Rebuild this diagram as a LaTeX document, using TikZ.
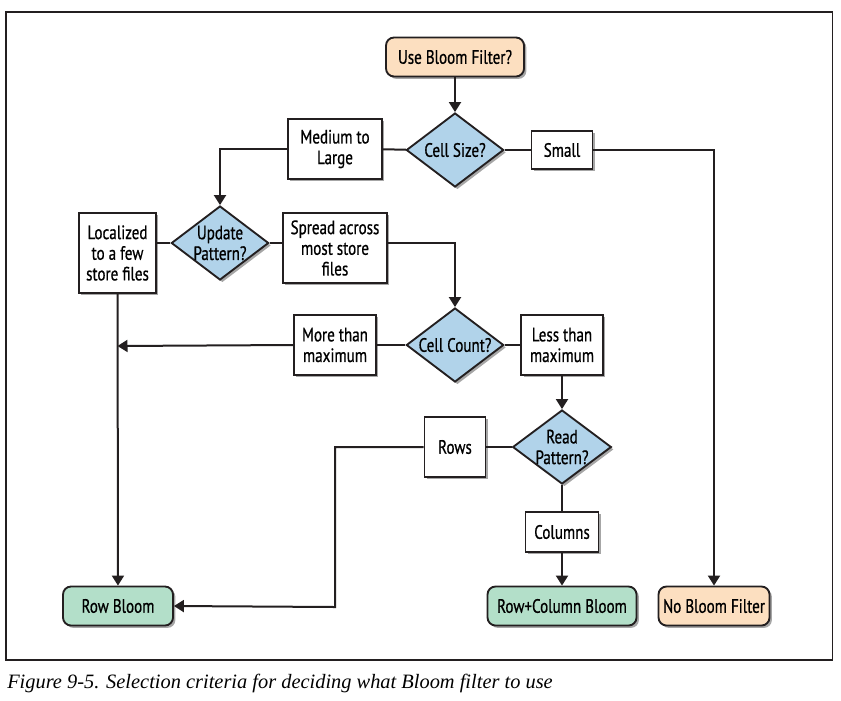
\documentclass[tikz,border=0pt]{standalone}
\usepackage{fontspec}
\setmainfont{Liberation Serif}
\newfontfamily\chartfont[FakeStretch=0.78,FakeBold=0.7]{PT Sans}
\usetikzlibrary{arrows.meta,shapes.geometric,shadows}
\definecolor{askblue}{HTML}{B1D3EA}
\definecolor{startorange}{HTML}{FCDFC0}
\definecolor{bloomgreen}{HTML}{B3DFC9}
\definecolor{inkline}{HTML}{231F20}
\tikzset{
  base/.style={draw=inkline, line width=1.4pt, font=\chartfont\fontsize{14.5}{15.5}\selectfont,
    align=center, inner sep=0pt, drop shadow={shadow xshift=1.8pt, shadow yshift=-1.8pt, opacity=0.35, fill=black}},
  answer/.style={base, rectangle, fill=white},
  terminal/.style={base, rectangle, rounded corners=6pt, minimum height=29.25pt},
  decision/.style={base, diamond, fill=askblue, inner sep=-8pt, minimum width=73pt, minimum height=55.5pt},
  link/.style={draw=inkline, line width=1.5pt},
  flow/.style={link, -{Triangle[width=9pt,length=7.5pt]}}
}
\begin{document}
\begin{tikzpicture}[x=0.75pt, y=-0.75pt]
		%%%%% START %%%%%
		\useasboundingbox (0,0) rectangle (841,700);
		\draw[line width=1.1pt, color=inkline] (6, 12) rectangle (832.5, 660);
		
		\node[terminal, fill=startorange, minimum width=103.5pt] (start) at (455, 57) {Use Bloom Filter?};
		\node[decision] (size) at (455, 150) {Cell Size?};
		\node[answer, minimum width=70.5pt, minimum height=45pt] (medium) at (335, 149) {Medium to\\Large};
		\node[answer, minimum width=45.75pt, minimum height=28.5pt] (small) at (562, 150) {Small};
		
		\node[decision] (update) at (220, 243) {Update\\Pattern?};
		\node[answer, minimum width=57.75pt, minimum height=60pt] (localized) at (117.5, 253) {Localized\\to a few\\store files};
		\node[answer, minimum width=78pt, minimum height=52.5pt] (spread) at (335, 248) {Spread across\\most store\\files};
		
		\node[decision] (count) at (455, 345) {Cell Count?};
		\node[answer, minimum width=61.5pt, minimum height=45pt] (more) at (335, 345) {More than\\maximum};
		\node[answer, minimum width=61pt, minimum height=45pt] (less) at (562, 345) {Less than\\maximum};
		
		\node[decision, minimum width=74pt] (read) at (562, 447) {Read\\Pattern?};
		\node[answer, minimum width=45.75pt, minimum height=45pt] (rows) at (455, 447) {Rows};
		\node[answer, minimum width=54.75pt, minimum height=30pt] (columns) at (562, 532) {Columns};
		
		\node[terminal, fill=bloomgreen, minimum width=82.5pt] (rowbloom) at (118, 606) {Row Bloom};
		\node[terminal, fill=bloomgreen, minimum width=111.75pt] (rcbloom) at (562, 606) {Row+Column Bloom};
		\node[terminal, fill=startorange, minimum width=83.25pt] (nobloom) at (714, 606) {No Bloom Filter};
		
		\coordinate (join) at (117.5, 346);
		\coordinate (bend) at (335, 607);
		
		\draw[flow] (start) -- (size);
		\draw[link] (size) -- (medium);
		\draw[flow] (medium.west) -| (update.north);
		\draw[link] (size) -- (small);
		\draw[flow] (small.east) -| (nobloom.north);
		
		\draw[link] (update) -- (update -| localized.east);
		\draw[link] (update) -- (update -| spread.west);
		\draw[flow] (update -| spread.east) -| (count.north);
		\draw[flow] (localized) -- (rowbloom);
		
		\draw[link] (count) -- (more);
		\draw[flow] (more.west) -- (join);
		\draw[link] (count) -- (less);
		\draw[flow] (less) -- (read);
		
		\draw[link] (read) -- (rows);
		\draw[flow] (rows.west) -| (bend) -- (rowbloom.east);
		\draw[link] (read) -- (columns);
		\draw[flow] (columns) -- (rcbloom);
		
		\node[anchor=base west, font=\itshape\fontsize{15.3}{16}\selectfont, inner sep=0pt] (caption) at (7, 688) {Figure 9-5. Selection criteria for deciding what Bloom filter to use};
		%%%%% END %%%%%
\end{tikzpicture}
\end{document}
